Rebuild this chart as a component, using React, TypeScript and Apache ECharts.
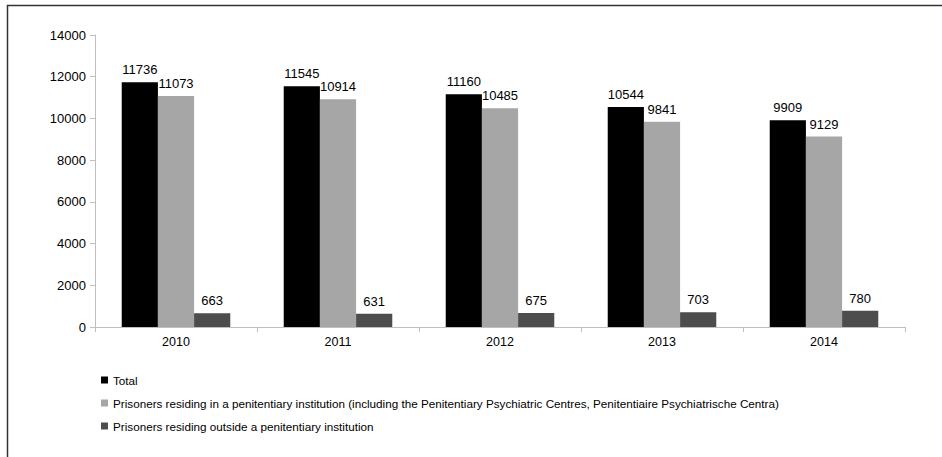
import React, { useEffect, useRef } from "react";
import * as echarts from "echarts";

const years = ["2010", "2011", "2012", "2013", "2014"];
const totalValues = [11736, 11545, 11160, 10544, 9909];
const insideValues = [11073, 10914, 10485, 9841, 9129];
const outsideValues = [663, 631, 675, 703, 780];
const seriesNames = [
  "Total",
  "Prisoners residing in a penitentiary institution (including the Penitentiary Psychiatric Centres, Penitentiaire Psychiatrische Centra)",
  "Prisoners residing outside a penitentiary institution",
];
const seriesColors = ["#000000", "#a6a6a6", "#4d4d4d"];

const FONT = "'Liberation Sans', Arial, sans-serif";

export default function App() {
  const ref = useRef<HTMLDivElement>(null);
  useEffect(() => {
    document.body.style.margin = "0";
    if (!ref.current) return;
    const chart = echarts.init(ref.current, undefined, { renderer: "svg" });
    const dataSets = [totalValues, insideValues, outsideValues];
    chart.setOption({
      animation: false,
      textStyle: { fontFamily: FONT },
      grid: { left: 95, right: 37, top: 35, bottom: 130, containLabel: false },
      legend: {
        orient: "vertical",
        left: 96,
        top: 369,
        itemWidth: 7,
        itemHeight: 7,
        itemGap: 11,
        icon: "rect",
        textStyle: { fontFamily: FONT, fontSize: 11.7, color: "#000" },
        data: seriesNames,
      },
      xAxis: {
        type: "category",
        data: years,
        axisLine: { lineStyle: { color: "#bfbfbf", width: 1 } },
        axisTick: { show: true, length: 5, lineStyle: { color: "#bfbfbf" } },
        axisLabel: { color: "#000", fontSize: 12.5, fontFamily: FONT, margin: 8 },
      },
      yAxis: {
        type: "value",
        min: 0,
        max: 14000,
        interval: 2000,
        splitLine: { show: false },
        axisLine: { show: true, lineStyle: { color: "#bfbfbf", width: 1 } },
        axisTick: { show: true, length: 5, lineStyle: { color: "#bfbfbf" } },
        axisLabel: {
          color: "#000",
          fontSize: 13,
          fontFamily: FONT,
          margin: 9,
          formatter: (v: number) => String(v),
        },
      },
      series: seriesNames.map((name, i) => ({
        name,
        type: "bar",
        data: dataSets[i],
        barGap: "0%",
        barCategoryGap: "33%",
        itemStyle: { color: seriesColors[i] },
        label: {
          show: true,
          position: "top",
          distance: 6,
          color: "#000",
          fontSize: 13,
          fontFamily: FONT,
        },
      })),
      graphic: [
        {
          type: "rect",
          shape: { x: 7.5, y: 5.5, width: 960, height: 470 },
          style: { fill: "none", stroke: "#333", lineWidth: 1.5 },
          silent: true,
        },
      ],
    });
    return () => chart.dispose();
  }, []);
  return <div ref={ref} style={{ width: 942, height: 457 }} />;
}
